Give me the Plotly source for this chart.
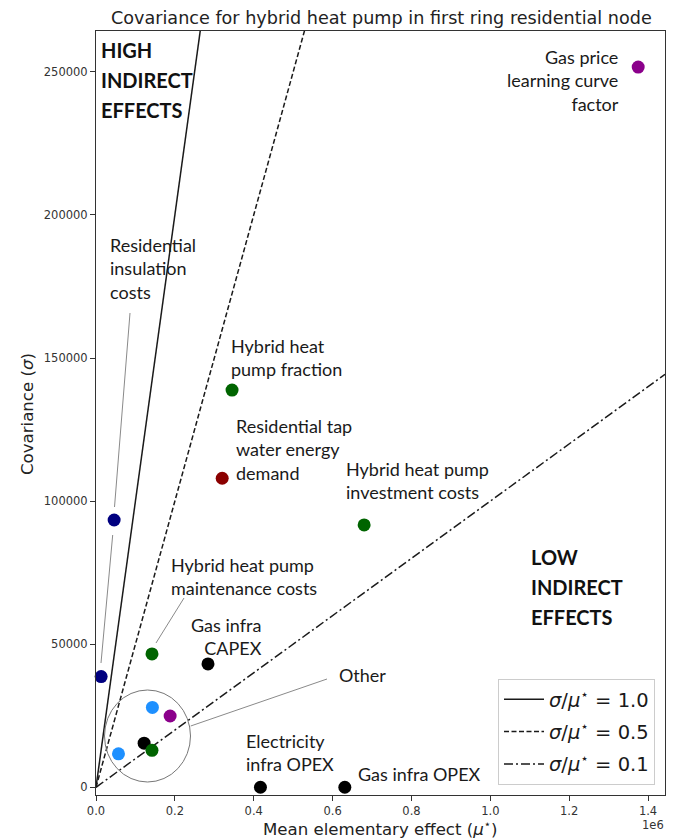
import plotly.graph_objects as go

# ---------------- data ----------------
parameters = [
    "Gas price learning curve factor",
    "Hybrid heat pump fraction",
    "Residential tap water energy demand",
    "Hybrid heat pump investment costs",
    "Residential insulation costs (a)",
    "Residential insulation costs (b)",
    "Hybrid heat pump maintenance costs",
    "Gas infra CAPEX",
    "Other 1",
    "Other 2",
    "Other 3",
    "Other 4",
    "Other 5",
    "Electricity infra OPEX",
    "Gas infra OPEX",
]
mu_star = [1375000, 345000, 320000, 680000, 46000, 13000, 142000, 284000,
           143000, 188000, 122000, 142000, 57000, 417000, 631000]
sigma = [251700, 138800, 108000, 91700, 93400, 38700, 46600, 43100,
         27900, 24900, 15400, 12900, 11700, 0, 0]
group = ["gas price", "heat pump", "demand", "heat pump", "insulation", "insulation",
         "heat pump", "infrastructure", "other", "gas price", "infrastructure",
         "heat pump", "other", "infrastructure", "infrastructure"]

ratios = [1.0, 0.5, 0.1]
x_tickvals = [0, 200000, 400000, 600000, 800000, 1000000, 1200000, 1400000]
x_ticktext = ["0.0", "0.2", "0.4", "0.6", "0.8", "1.0", "1.2", "1.4"]
y_tickvals = [0, 50000, 100000, 150000, 200000, 250000]
y_ticktext = ["0", "50000", "100000", "150000", "200000", "250000"]

# ---------------- styles ----------------
group_colors = {
    "gas price": "#8b008b",
    "heat pump": "#006400",
    "demand": "#8b0000",
    "insulation": "#000080",
    "infrastructure": "#000000",
    "other": "#1e90ff",
}
ratio_dash = {1.0: "solid", 0.5: "5px,2.5px", 0.1: "9px,3px,2px,3px"}

X_MAX = 1443000
Y_RANGE = [-2700, 264300]

fig = go.Figure()

for r in ratios:
    fig.add_trace(go.Scatter(
        x=[0, X_MAX], y=[0, r * X_MAX], mode="lines",
        line=dict(color="#1a1a1a", width=1.5, dash=ratio_dash[r]),
        name=f"<i>σ</i>/<i>μ</i><sup>⋆</sup> = {r:.1f}",
        legendgroup=str(r),
    ))

fig.add_trace(go.Scatter(
    x=mu_star, y=sigma, mode="markers", text=parameters,
    marker=dict(size=13, color=[group_colors[g] for g in group], line=dict(width=0)),
    showlegend=False, hoverinfo="text", cliponaxis=False,
))

# plot area in pixels: left 96, right 665, top 31, bottom 795
L, R, T, B = 96, 665, 31, 795
def px(x):
    return (x - L) / (R - L)
def py(y):
    return (B - y) / (B - T)

LBL = dict(family="Lato, 'Open Sans', sans-serif", size=18, color="#1a1a1a")
BLD = dict(family="Lato, 'Open Sans', sans-serif", size=20, color="#111111")

labels = [
    ("Gas price<br>learning curve<br>factor", 621, 80, "right"),
    ("Residential<br>insulation<br>costs", 108, 268, "left"),
    ("Hybrid heat<br>pump fraction", 229, 357, "left"),
    ("Residential tap<br>water energy<br>demand", 234, 449, "left"),
    ("Hybrid heat pump<br>investment costs", 344, 480, "left"),
    ("Hybrid heat pump<br>maintenance costs", 169, 576, "left"),
    ("Gas infra<br>CAPEX", 264, 636, "right"),
    ("Other", 337, 675, "left"),
    ("Electricity<br>infra OPEX", 244, 752, "left"),
    ("Gas infra OPEX", 356, 774, "left"),
]
annotations = []
for text, x, y, al in labels:
    annotations.append(dict(text=text, x=px(x), y=py(y), xref="paper", yref="paper",
                            xanchor=al, yanchor="middle", align=al, showarrow=False,
                            font=LBL))

for lines, x, ys in [(["HIGH", "INDIRECT", "EFFECTS"], 99, [50, 80, 110]),
                     (["LOW", "INDIRECT", "EFFECTS"], 529, [557, 587, 617])]:
    for t, y in zip(lines, ys):
        annotations.append(dict(text=f"<b>{t}</b>", x=px(x), y=py(y), xref="paper",
                                yref="paper", xanchor="left", yanchor="middle",
                                showarrow=False, font=BLD))

TICKF = dict(family="DejaVu Sans", size=11.5, color="#333333")
annotations += [
    dict(text="Covariance for hybrid heat pump in first ring residential node",
         x=px(381), y=py(18), xref="paper", yref="paper", showarrow=False,
         xanchor="center", yanchor="middle",
         font=dict(family="DejaVu Sans", size=17.6, color="#222222")),
    dict(text="Mean elementary effect (<i>μ</i><sup>⋆</sup>)",
         x=px(380), y=py(828), xref="paper", yref="paper", showarrow=False,
         xanchor="center", yanchor="middle", borderpad=0,
         font=dict(family="DejaVu Sans", size=16.6, color="#222222")),
    dict(text="Covariance (<i>σ</i>)", textangle=-90,
         x=px(27), y=py(414), xref="paper", yref="paper", showarrow=False,
         xanchor="center", yanchor="middle",
         font=dict(family="DejaVu Sans", size=16.6, color="#222222")),
    dict(text="1e6", x=px(653), y=py(825), xref="paper", yref="paper",
         showarrow=False, xanchor="center", yanchor="middle", borderpad=0,
         font=TICKF),
]

GREY = "#8a8a8a"
shapes = [
    dict(type="circle", xref="paper", yref="paper", x0=px(104.5), x1=px(190.5),
         y0=py(782), y1=py(690), line=dict(color="#777777", width=1)),
    dict(type="line", xref="paper", yref="paper", x0=px(130), y0=py(313),
         x1=px(114.5), y1=py(507), line=dict(color=GREY, width=1)),
    dict(type="line", xref="paper", yref="paper", x0=px(112.7), y0=py(535),
         x1=px(101), y1=py(663), line=dict(color=GREY, width=1)),
    dict(type="line", xref="paper", yref="paper", x0=px(184), y0=py(598),
         x1=px(156), y1=py(643), line=dict(color=GREY, width=1)),
    dict(type="line", xref="paper", yref="paper", x0=px(190.7), y0=py(726),
         x1=px(327), y1=py(679), line=dict(color=GREY, width=1)),
]

AX = dict(showline=True, linecolor="#333333", linewidth=1, mirror=True,
          ticks="outside", ticklen=5, tickcolor="#333333", tickfont=TICKF,
          showgrid=False, zeroline=False)

fig.update_layout(
    width=675, height=839,
    margin=dict(l=L, r=675 - R, t=T, b=839 - B),
    plot_bgcolor="white", paper_bgcolor="white",
    xaxis=dict(range=[0, X_MAX], tickvals=x_tickvals, ticktext=x_ticktext, **AX),
    yaxis=dict(range=Y_RANGE, tickvals=y_tickvals, ticktext=y_ticktext, **AX),
    legend=dict(x=px(655), y=py(785), xanchor="right", yanchor="bottom",
                bgcolor="white", bordercolor="#cccccc", borderwidth=1,
                font=dict(family="DejaVu Sans", size=19.5, color="#1a1a1a"),
                tracegroupgap=4, itemwidth=40),
    annotations=annotations,
    shapes=shapes,
    showlegend=True,
)

fig.write_html(
    "out.html",
    config={"displayModeBar": False},
    post_script="document.body.style.margin='0';document.body.style.padding='0';"
                "document.body.style.overflow='hidden';",
)
